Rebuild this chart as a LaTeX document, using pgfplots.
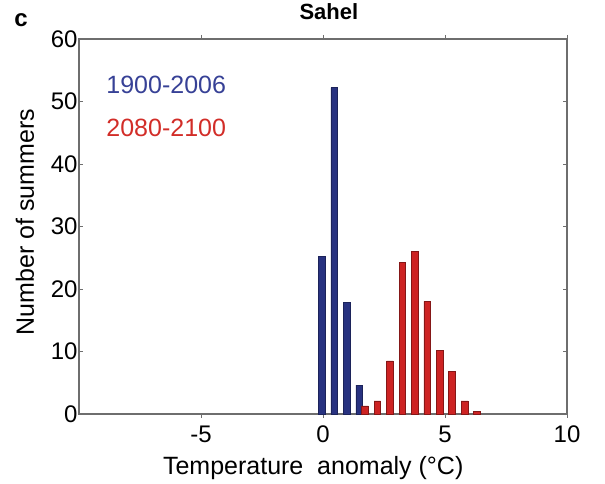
\documentclass[border=0pt]{standalone}
\usepackage{pgfplots}
\pgfplotsset{compat=1.18}
\usepackage{fontspec}
\setmainfont{Liberation Sans}
\definecolor{barblue}{RGB}{40,50,128}
\definecolor{barred}{RGB}{205,35,35}
\definecolor{txtblue}{RGB}{55,65,150}
\definecolor{txtred}{RGB}{210,45,40}
\definecolor{axgray}{RGB}{110,110,110}
\begin{document}
\begin{tikzpicture}[x=1pt,y=1pt]
  \useasboundingbox (0,0) rectangle (605,484);
  \begin{axis}[
    at={(79pt,70pt)},
    anchor=south west,
    scale only axis,
    width=488pt,
    height=375pt,
    clip=false,
    xmin=-10, xmax=10,
    ymin=0, ymax=60,
    xtick={-5,0,5,10},
    ytick={0,10,20,30,40,50,60},
    tick align=inside,
    major tick length=4pt,
    axis line style={axgray, line width=1.2pt},
    tick style={axgray, line width=0.8pt},
    /pgf/number format/assume math mode=true,
    tick label style={font=\fontsize{24}{28}\selectfont},
    xticklabel style={yshift=-4pt},
    yticklabel style={xshift=2pt},
    label style={font=\fontsize{25}{30}\selectfont},
    xlabel={Temperature\ \ anomaly (°C)},
    ylabel={Number of summers},
    xlabel style={at={(axis description cs:0.48,-0.145)}, anchor=center},
    ylabel style={at={(axis description cs:-0.111,0.512)}, anchor=center, rotate=0},
    title={Sahel},
    title style={font=\fontsize{22}{26}\selectfont\bfseries, at={(axis description cs:0.512,1.056)}, anchor=center},
    ybar, bar shift=0pt, bar width=0.27,
  ]
  \addplot[fill=barblue, draw=barblue!70!black, line width=0.6pt] coordinates {
    (-0.05,25.2) (0.46,52.2) (0.97,17.8) (1.48,4.6)
  };
  \addplot[fill=barred, draw=barred!65!black, line width=0.6pt] coordinates {
    (1.72,1.3) (2.23,2.1) (2.74,8.5) (3.25,24.3) (3.76,26.0)
    (4.27,18.0) (4.78,10.2) (5.29,6.8) (5.80,2.1) (6.31,0.4)
  };
  \node[anchor=west, text=txtblue, font=\fontsize{25}{30}\selectfont] at (axis description cs:0.049,0.877) {1900-2006};
  \node[anchor=west, text=txtred, font=\fontsize{25}{30}\selectfont] at (axis description cs:0.049,0.763) {2080-2100};
  \node[font=\fontsize{24}{28}\selectfont\bfseries] at (axis description cs:-0.119,1.051) {c};
  \end{axis}
\end{tikzpicture}
\end{document}
